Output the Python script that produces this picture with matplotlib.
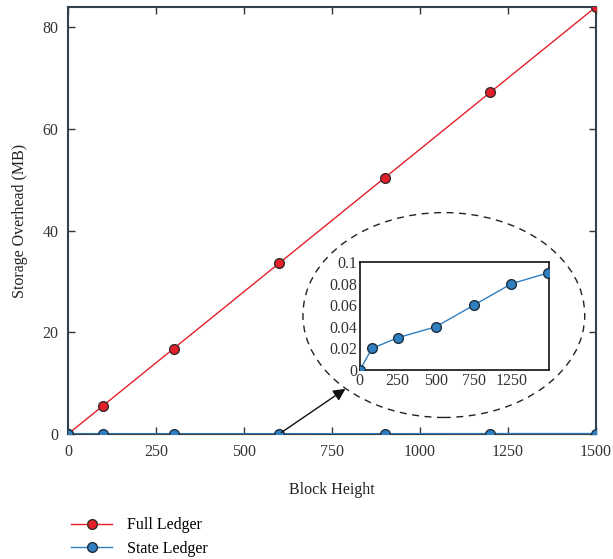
import matplotlib
matplotlib.use("Agg")
import matplotlib.pyplot as plt
from matplotlib.patches import Ellipse

plt.rcParams['font.family'] = ['Liberation Serif', 'DejaVu Serif']

# data
block_height = [0, 100, 300, 600, 900, 1200, 1500]
full_ledger = [0, 5.6, 16.8, 33.6, 50.4, 67.2, 84.0]
state_ledger = [0, 0.02, 0.03, 0.04, 0.06, 0.08, 0.09]

inset_x = [0, 80, 250, 500, 750, 1000, 1240]
inset_ticks = [0, 250, 500, 750, 1000]
inset_ticklabels = ['0', '250', '500', '750', '1250']

red = '#e3202a'
blue = '#2f7fc1'
spine = '#34404c'
fs = 11.5

fig = plt.figure(figsize=(6.13, 5.59), dpi=100)
ax = fig.add_axes([0.111, 0.2236, 0.861, 0.764])

ax.plot(block_height, full_ledger, color=red, lw=1, marker='o', ms=7,
        mfc=red, mec='#3a2a2a', mew=1, label='Full Ledger', zorder=3)
ax.plot(block_height, state_ledger, color=blue, lw=1, marker='o', ms=7,
        mfc=blue, mec='#1f2f3f', mew=1, label='State Ledger', zorder=3)

ax.set_xlim(0, 1500)
ax.set_ylim(0, 84)
ax.set_xticks([0, 250, 500, 750, 1000, 1250, 1500])
ax.set_yticks([0, 20, 40, 60, 80])
ax.tick_params(direction='in', top=True, right=True, length=5, width=1,
               labelsize=fs, colors='#333333', pad=7)
for s in ax.spines.values():
    s.set_color(spine)
    s.set_linewidth(1.5)
ax.set_xlabel('Block Height', fontsize=fs, labelpad=16, color='#222222')
ax.set_ylabel('Storage Overhead (MB)', fontsize=fs, labelpad=10, color='#222222')

# zoom ellipse and arrow
ax.add_patch(Ellipse((1068, 23.4), 801, 40.3, fill=False, ls=(0, (5, 4)),
                     lw=1, ec='#222222', zorder=2))
ax.annotate('', xy=(795, 9.2), xytext=(600, 0),
            arrowprops=dict(arrowstyle='-|>', color='#111111', lw=1,
                            mutation_scale=18), zorder=4)

# inset
ins = fig.add_axes([0.587, 0.338, 0.308, 0.193])
ins.plot(inset_x, state_ledger, color=blue, lw=1, marker='o', ms=7,
         mfc=blue, mec='#1f2f3f', mew=1, zorder=3)
ins.set_xlim(0, 1245)
ins.set_ylim(0, 0.1)
ins.set_xticks(inset_ticks)
ins.set_xticklabels(inset_ticklabels)
ins.set_yticks([0, 0.02, 0.04, 0.06, 0.08, 0.1])
ins.set_yticklabels(['0', '0.02', '0.04', '0.06', '0.08', '0.1'])
ins.tick_params(length=0, labelsize=fs, colors='#333333', pad=2)
for s in ins.spines.values():
    s.set_color('#111111')
    s.set_linewidth(1.2)

handles, labels = ax.get_legend_handles_labels()
fig.legend(handles, labels, loc='upper left', bbox_to_anchor=(0.092, 0.1),
           frameon=False, fontsize=fs, handlelength=2.6, handletextpad=0.9,
           labelspacing=0.45)

fig.savefig('out.png', dpi=100)
